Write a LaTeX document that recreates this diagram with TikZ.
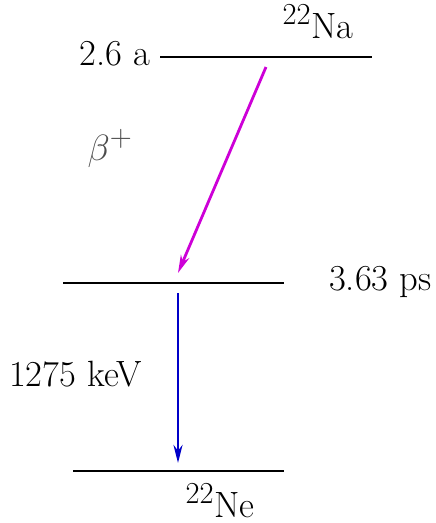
\documentclass[tikz,border=0pt]{standalone}
\usepackage{graphicx}
\usetikzlibrary{arrows.meta}
\definecolor{mag}{RGB}{205,0,215}
\definecolor{blu}{RGB}{0,0,200}
\newcommand\bigtxt[1]{\scalebox{1.47}{\fontsize{24.88}{30}\selectfont #1}}
\begin{document}
\begin{tikzpicture}[x=1pt,y=-1pt,
  level/.style={line width=1.4pt,black},
  lbl/.style={inner sep=0pt},
  trans/.style={line width=2.8pt,-{Stealth[length=18pt,width=9pt]}}]
\useasboundingbox (0,0) rectangle (436,523);
% levels
\coordinate (t1) at (160,57); \coordinate (t2) at (372,57);
\coordinate (m1) at (63,283); \coordinate (m2) at (284,283);
\coordinate (b1) at (73,471); \coordinate (b2) at (284,471);
\draw[level] (t1) -- (t2);
\draw[level] (m1) -- (m2);
\draw[level] (b1) -- (b2);
% labels
\node[lbl,anchor=base east] (half) at (150,65) {\bigtxt{2.6 a}};
\node[lbl,anchor=base] (na) at (318,38) {\bigtxt{$^{22}$Na}};
\node[lbl,anchor=base west] (life) at (329,290) {\bigtxt{3.63 ps}};
\node[lbl,anchor=base west] (energy) at (9,386) {\bigtxt{1275 keV}};
\node[lbl,anchor=base] (ne) at (220,517) {\bigtxt{$^{22}$Ne}};
\node[lbl,anchor=base,text=black!70] (beta) at (110,160) {\bigtxt{$\beta^+$}};
% transitions
\coordinate (a1) at (266,67); \coordinate (a2) at (178,273);
\coordinate (g1) at (178,293); \coordinate (g2) at (178,463);
\draw[trans,mag] (a1) -- (a2);
\draw[trans,blu] (g1) -- (g2);
\end{tikzpicture}
\end{document}
